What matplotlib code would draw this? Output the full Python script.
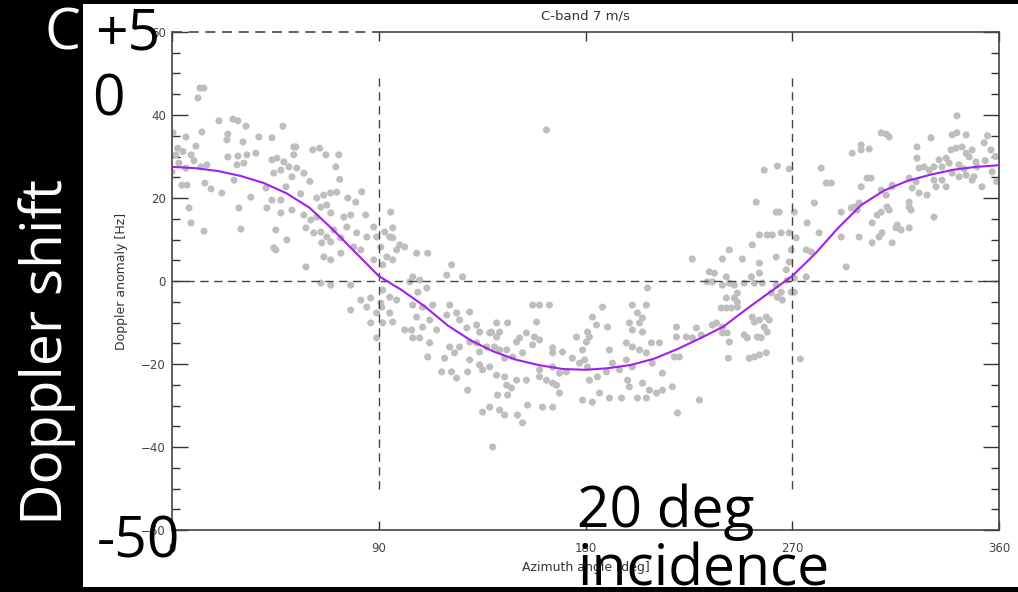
import matplotlib
matplotlib.use('Agg')
import matplotlib.pyplot as plt
from matplotlib.patches import Rectangle

W, H = 1018, 592

# scatter samples: azimuth [deg] and Doppler anomaly [Hz]
azimuth = [
    12.2, 13.9, 11.3, 20.4, 26.5, 28.7, 32.2, 0.4, 6.1, 13.0, 24.3, 23.9, 30.9, 37.8, 43.5, 53.0,
    1.7, 8.3, 4.3, 6.5, 7.4, 8.3, 13.9, 0.0, 12.6, 15.2, 14.3, 17.0, 21.7, 24.3, 28.7, 32.6, 36.5, 28.3, 31.3, 27.0, 34.3, 29.1, 30.0,
    43.5, 45.7, 48.7, 50.9, 47.4, 44.3, 52.2, 49.6, 40.9, 54.3, 57.4, 53.0, 72.6, 71.3, 43.5, 47.4, 41.3, 47.4, 52.2, 45.2, 50.0, 44.3, 45.2,
    48.3, 53.9, 61.3, 64.3, 67.0, 2.5, 4.8, 3.0, 9.6, 6.0, 10.4,
    58.3, 57.4, 60.4, 63.0, 66.0, 69.0, 71.7, 64.8, 67.4, 63.0, 69.1, 61.7, 64.8, 67.4, 70.4, 65.2, 69.1, 73.5, 66.1, 69.1, 73.5, 58.3, 64.8, 69.1, 77.8,
    74.8, 77.8, 76.1, 80.4, 84.3, 84.8, 87.8, 79.1, 82.2, 89.1, 90.9, 87.8, 77.8, 82.2, 84.8, 86.5, 86.5, 89.1, 90.9, 89.1,
    76.5, 80.0, 82.6, 73.0, 60.0, 56.0,
    95.2, 96.1, 92.6, 94.8, 96.1, 99.1, 101.3, 97.8, 93.5, 96.1, 91.7, 106.5, 111.3, 121.7, 126.5, 119.6, 104.8, 107.8, 103.5, 110.9, 107.0, 91.7, 94.8, 97.8, 91.3, 94.8, 91.7, 96.1,
    104.8, 109.1, 113.5, 120.9, 106.5, 112.2, 119.6, 125.2, 101.3, 104.3, 109.1, 115.2, 104.8, 107.8, 112.2, 123.9, 129.6, 128.3, 132.6, 133.9, 138.3,
    120.9, 125.2, 129.6, 132.6, 111.3, 118.7, 123.0, 129.6, 133.9, 117.4, 121.7, 123.9, 128.7, 128.7, 133.9, 135.2, 138.3,
    141.3, 146.1, 139.1, 141.3, 142.6, 137.0, 140.4, 142.6, 145.7, 144.8, 148.3, 152.6, 150.0, 151.3, 154.3, 157.8, 160.0, 157.0, 157.0, 160.0, 164.3, 158.7,
    141.3, 144.8, 145.7, 147.8, 141.7, 146.1, 150.0, 154.3, 154.8, 161.3, 165.7,
    160.0, 165.7, 168.7, 171.7, 160.0, 163.0, 165.7, 167.4, 168.7, 165.7, 165.7, 170.0, 138.3, 135.2, 142.6, 144.8, 150.4, 152.6, 139.6, 163.0,
    176.1, 178.7, 180.9, 181.7, 174.3, 177.4, 179.6, 180.9, 181.7, 185.2, 189.1, 178.7, 183.0, 186.1, 190.4, 183.0, 184.8, 187.4, 180.4, 189.6, 190.4,
    191.7, 194.8, 197.8, 200.4, 198.3, 195.7, 199.1, 202.6, 206.5, 200.4, 202.6, 204.8, 206.5, 207.0, 199.1, 200.4, 203.5, 204.8,
    197.8, 200.4, 203.5, 208.7, 212.2, 206.5, 209.1, 204.8, 207.8, 210.9, 213.5, 213.5, 217.8, 219.6, 218.7, 219.6, 220.0,
    226.5, 239.6, 248.3, 242.6, 233.9, 236.1, 233.0, 235.2, 241.3, 239.6, 242.6, 244.8, 252.2, 255.7, 255.7, 249.1, 253.5, 257.0,
    246.1, 244.8, 241.3, 246.1, 239.1, 241.3, 243.5, 246.1,
    252.6, 253.5, 255.7, 258.7, 260.0, 257.8, 259.1, 260.9, 263.5, 265.7, 265.2, 263.0, 267.4, 267.8, 270.9, 269.6, 270.9, 276.1,
    268.7, 269.6, 271.7, 270.9, 276.1, 278.3,
    268.7, 265.2, 261.3, 259.1, 255.7, 263.0, 264.3, 254.3, 263.0, 252.6, 257.8, 263.5, 268.7, 273.5, 242.2, 251.3, 253.5, 255.7, 258.7,
    249.1, 250.4, 254.8, 256.5, 239.6, 241.7, 242.6, 235.2, 237.0, 239.6, 228.3, 230.4, 226.5, 223.9, 220.9, 229.6,
    276.5, 279.6, 281.7, 282.6, 284.8, 287.0, 291.3, 293.5, 291.3, 295.7, 297.0, 299.1, 298.3, 299.1, 296.1, 300.0, 300.0, 303.5,
    300.0, 302.6, 304.3, 304.8, 307.8, 309.1, 304.8, 307.0, 308.7, 311.3, 312.2, 313.5,
    315.7, 315.2, 317.4, 320.9, 320.9, 321.7, 320.9, 308.7, 310.9, 312.2, 308.7, 310.9, 313.5, 313.5, 320.9, 323.9, 322.2, 325.2,
    324.3, 324.3, 325.2, 327.4, 329.6, 331.7, 330.4, 328.7, 331.7, 331.7, 335.2, 337.0, 332.6,
    333.9, 337.0, 338.3, 335.2, 339.6, 341.7, 345.7, 339.1, 341.3, 343.9, 345.7, 348.3, 341.7, 339.6, 342.6, 345.7, 348.3, 349.1,
    347.0, 350.0, 350.4, 353.5, 356.5, 352.6, 357.0, 342.6, 344.8, 354.0, 358.5, 359.0, 355.0,
]
doppler = [
    46.5, 46.5, 44.1, 38.6, 39.0, 38.6, 37.3, 35.7, 34.7, 35.9, 35.4, 34.0, 33.5, 34.7, 34.5, 32.3,
    30.4, 30.4, 23.1, 23.1, 17.6, 14.0, 12.0, 26.3, 27.5, 28.0, 23.6, 22.2, 21.2, 29.9, 30.1, 30.4, 30.8, 28.0, 28.4, 24.3, 20.2, 17.6, 12.5,
    29.2, 29.6, 28.7, 27.5, 26.7, 26.0, 25.1, 22.7, 22.4, 27.2, 26.0, 30.4, 30.4, 27.5, 19.5, 19.5, 17.6, 16.4, 17.1, 12.3, 9.9, 8.0, 7.5,
    37.3, 32.3, 31.6, 32.0, 30.4, 32.0, 31.2, 28.4, 29.0, 27.2, 32.5,
    12.8, 15.9, 14.7, 20.0, 20.7, 21.2, 21.4, 17.8, 18.3, 15.4, 16.4, 11.6, 11.8, 10.6, 12.3, 9.2, 9.4, 10.4, 5.8, 5.1, 6.7, 3.4, -0.5, -1.0, -1.0,
    15.4, 15.9, 13.0, 11.6, 15.9, 10.6, 13.0, 8.2, 7.5, 10.6, 8.2, 5.1, -7.0, -4.6, -6.3, -4.1, -10.1, -7.7, -5.3, -13.7,
    20.0, 19.0, 21.5, 24.5, 24.0, 21.0,
    16.6, 12.8, 11.8, 10.6, 10.4, 8.7, 8.2, 7.5, 5.8, 5.1, 3.9, 6.7, 6.7, 3.9, 1.0, 1.4, 1.0, 0.2, -0.2, -1.7, -2.7, -2.2, -3.9, -4.6, -6.3, -7.7, -10.1, -9.9,
    -5.8, -6.3, -5.8, -5.8, -8.7, -9.4, -8.2, -9.4, -11.8, -11.8, -11.1, -11.8, -13.7, -13.7, -14.9, -7.7, -7.5, -11.3, -10.6, -12.3, -12.5,
    -15.9, -15.9, -14.7, -14.9, -18.3, -18.6, -17.3, -19.0, -17.1, -21.9, -21.9, -23.4, -21.9, -26.3, -20.2, -21.4, -20.7,
    -10.1, -10.1, -12.3, -13.5, -12.3, -15.9, -15.9, -16.6, -16.6, -18.6, -18.3, -17.3, -14.7, -13.7, -12.5, -13.5, -14.2, -15.4, -5.8, -5.8, -5.8, -9.9,
    -22.7, -23.1, -25.1, -25.8, -27.5, -27.5, -23.9, -23.9, -29.9, -30.4, -30.4,
    -21.4, -20.7, -22.2, -21.9, -23.1, -23.9, -24.6, -25.1, -27.0, -16.1, -17.3, -17.1, -30.4, -31.6, -31.1, -32.3, -32.3, -34.2, -40.0, 36.4,
    -13.5, -16.6, -12.3, -13.5, -18.6, -19.8, -19.0, -20.7, -23.9, -23.1, -21.9, -28.7, -29.2, -27.0, -28.2, -8.7, -10.6, -6.3, -14.7, -11.1, -16.6,
    -19.8, -21.4, -19.0, -20.7, -23.9, -28.2, -25.5, -28.2, -28.2, -5.8, -7.7, -8.9, -5.8, -1.7, -10.1, -11.8, -10.1, -12.3,
    -14.9, -15.9, -16.6, -14.9, -14.9, -17.3, -19.8, -24.6, -26.3, -27.0, -26.3, -22.2, -25.5, -11.1, -18.3, -13.5, -31.8,
    5.3, 5.3, 5.3, 7.5, 2.2, 1.9, -0.2, -0.2, 1.0, -1.0, -0.5, -1.0, 1.0, 4.3, 1.9, -0.5, -0.5, -0.5,
    -2.9, -4.1, -4.1, -5.1, -6.5, -6.5, -6.5, -6.3,
    -8.7, -9.9, -9.4, -8.7, -9.4, -11.1, -12.3, -2.9, -3.9, -4.6, -2.7, -1.0, 2.7, 0.2, 0.7, -2.7, -2.7, 1.0,
    4.6, 7.5, 10.4, 16.6, 7.5, 7.0,
    11.6, 11.6, 11.1, 11.1, 11.1, 16.6, 16.6, 19.0, 5.8, 8.7, 26.7, 27.7, 27.0, -18.8, -18.6, -18.6, -18.3, -17.8, -17.3,
    -13.0, -13.7, -13.5, -13.7, -12.5, -12.5, -14.7, -10.6, -10.1, -11.1, -11.3, -13.0, -13.7, -13.5, -18.3, -28.7,
    14.0, 18.8, 11.6, 27.2, 23.6, 23.6, 16.6, 3.4, 10.6, 17.6, 17.8, 18.8, 17.1, 10.6, 30.8, 31.6, 32.8, 31.8,
    22.7, 24.8, 24.8, 9.2, 10.6, 11.6, 14.0, 15.9, 16.6, 17.8, 17.1, 9.2,
    13.5, 12.8, 12.3, 12.8, 17.8, 17.1, 19.0, 35.7, 35.4, 34.7, 21.9, 20.7, 22.7, 23.1, 24.8, 23.9, 22.4, 21.2,
    29.6, 32.3, 27.2, 27.5, 26.7, 27.5, 34.5, 20.7, 15.4, 24.3, 24.3, 22.7, 22.7,
    29.2, 29.6, 28.4, 27.5, 35.2, 35.7, 35.2, 31.6, 32.0, 32.3, 30.8, 31.6, 39.8, 26.0, 25.1, 25.5, 24.3, 25.1,
    29.9, 28.7, 27.5, 33.3, 31.6, 22.7, 26.3, 28.0, 27.0, 29.0, 30.0, 24.0, 35.0,
]

# fitted curve, read every 10 deg
curve_az = [0, 10, 20, 30, 40, 50, 60, 70, 80, 90, 100, 110, 120, 130, 140, 150, 160, 170, 180,
            190, 200, 210, 220, 230, 240, 250, 260, 270, 280, 290, 300, 310, 320, 330, 340, 350, 360]
curve_hz = [27.5, 27.2, 26.5, 25.3, 23.6, 21.1, 17.6, 12.4, 6.8, 1.2, -2.2, -6.1, -10.7, -14.3, -17.0, -19.0, -20.3, -21.2, -21.4,
            -21.0, -20.2, -18.7, -16.4, -13.8, -11.0, -6.8, -2.8, 1.2, 6.6, 12.8, 18.3, 21.8, 24.1, 25.6, 26.8, 27.5, 27.9]

x_ticks = [0, 90, 180, 270, 360]
y_ticks = [-60, -40, -20, 0, 20, 40, 60]

fig = plt.figure(figsize=(W / 100, H / 100), dpi=100, facecolor='black')
# white slide image area
fig.add_artist(Rectangle((83 / W, 1 - 587 / H), (W - 83) / W, 583 / H,
                         transform=fig.transFigure, facecolor='white', edgecolor='none', zorder=0))

ax = fig.add_axes([172 / W, 1 - 530 / H, 827 / W, 498 / H])
ax.set_facecolor('none')

ax.scatter(azimuth, doppler, s=26, color='#bebebe', edgecolors='none', zorder=2)
ax.plot(curve_az, curve_hz, color='#a020f0', lw=1.5, zorder=4)

dash = (0, (6, 4))
ax.axhline(0, color='#444444', lw=1, ls=dash, zorder=3)
ax.plot([90, 90], [-50, 50], color='#444444', lw=1, ls=dash, zorder=3)
ax.plot([270, 270], [-50, 50], color='#444444', lw=1, ls=dash, zorder=3)
# top border: dashed up to 90 deg, solid after
ax.plot([0, 90], [60, 60], color='#444444', lw=1.2, ls=dash, clip_on=False, zorder=5)
ax.plot([90, 360], [60, 60], color='#444444', lw=1.2, clip_on=False, zorder=5)

ax.set_xlim(0, 360)
ax.set_ylim(-60, 60)
ax.set_xticks(x_ticks)
ax.set_yticks(y_ticks)
ax.set_yticks(range(-60, 61, 5), minor=True)

for side in ['left', 'right', 'bottom']:
    ax.spines[side].set_color('#444444')
    ax.spines[side].set_linewidth(1.2)
ax.spines['top'].set_visible(False)

ax.tick_params(axis='y', which='both', direction='in', left=True, right=True,
               color='#333333', labelcolor='#444444', labelsize=8.5, pad=4.5)
ax.tick_params(axis='y', which='major', length=11.5, width=1)
ax.tick_params(axis='y', which='minor', length=5.8, width=1)
ax.tick_params(axis='x', which='major', direction='in', top=True, bottom=True, length=6.5, width=1,
               color='#333333', labelcolor='#444444', labelsize=8.5, pad=9)

ax.set_title('C-band 7 m/s', fontsize=9.5, color='#333333', pad=9)
ax.set_ylabel('Doppler anomaly [Hz]', fontsize=9, color='#333333')
ax.yaxis.set_label_coords(-0.053, 0.5)
ax.set_xlabel('Azimuth angle [deg]', fontsize=9, color='#333333')
ax.xaxis.set_label_coords(0.5, -0.062)

# large slide annotations laid over the picture
big = dict(family='Open Sans', fontsize=41, va='baseline', ha='left', transform=fig.transFigure, zorder=10)
fig.text(45 / W, 1 - 50 / H, 'C', color='white', **big)
fig.text(95 / W, 1 - 50 / H, '+5', color='black', **big)
fig.text(92 / W, 1 - 115 / H, '0', color='black', **big)
fig.text(97 / W, 1 - 557 / H, '-50', color='black', **big)
fig.text(577 / W, 1 - 527 / H, '20 deg', color='black', **big)
fig.text(577 / W, 1 - 586 / H, 'incidence', color='black', **big)
fig.text(62 / W, 1 - 352 / H, 'Doppler shift', color='white', family='Open Sans', fontsize=41,
         rotation=90, rotation_mode='anchor', ha='center', va='baseline',
         transform=fig.transFigure, zorder=10)

fig.savefig('out.png', dpi=100, facecolor='black')
